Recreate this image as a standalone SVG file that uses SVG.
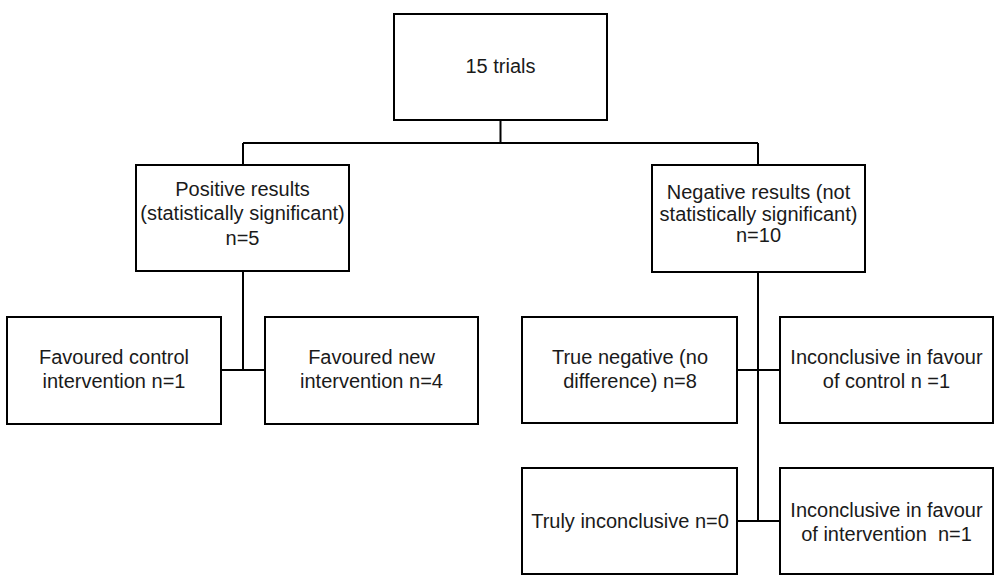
<svg xmlns="http://www.w3.org/2000/svg" width="997" height="582" viewBox="0 0 997 582">
<style>
.box{fill:#fff;stroke:#000;stroke-width:2}
.ln{fill:none;stroke:#000;stroke-width:2}
text{font-family:"Liberation Sans",Arial,sans-serif;font-size:20px;fill:#1a1a1a;text-anchor:middle}
</style>
<rect width="997" height="582" fill="#fff"/>
<g id="connectors">
<path class="ln" d="M500.5,120V143M243,143H758M243,143V165M758,143V165"/>
<path class="ln" d="M243,271V370M221,370H265"/>
<path class="ln" d="M758,272V521M737,370H780M737,521H780"/>
</g>
<g id="n-trials">
<rect class="box" x="394" y="14" width="213" height="106"/>
<text x="500.5" y="73">15 trials</text>
</g>
<g id="n-positive">
<rect class="box" x="136" y="165" width="213" height="106"/>
<text x="242.5" y="196">Positive results</text>
<text x="242.5" y="220">(statistically significant)</text>
<text x="242.5" y="245">n=5</text>
</g>
<g id="n-negative">
<rect class="box" x="652" y="165" width="213" height="107"/>
<text x="758.5" y="199">Negative results (not</text>
<text x="758.5" y="221">statistically significant)</text>
<text x="758.5" y="242">n=10</text>
</g>
<g id="n-fav-control">
<rect class="box" x="7" y="317" width="214" height="107"/>
<text x="114" y="364">Favoured control</text>
<text x="114" y="388">intervention n=1</text>
</g>
<g id="n-fav-new">
<rect class="box" x="265" y="317" width="213" height="107"/>
<text x="371.5" y="364">Favoured new</text>
<text x="371.5" y="388">intervention n=4</text>
</g>
<g id="n-true-neg">
<rect class="box" x="522" y="317" width="215" height="106"/>
<text x="630" y="364">True negative (no</text>
<text x="630" y="388">difference) n=8</text>
</g>
<g id="n-inc-control">
<rect class="box" x="780" y="317" width="213" height="106"/>
<text x="886.5" y="364">Inconclusive in favour</text>
<text x="886.5" y="388">of control n =1</text>
</g>
<g id="n-truly-inc">
<rect class="box" x="522" y="468" width="215" height="106"/>
<text x="630" y="528">Truly inconclusive n=0</text>
</g>
<g id="n-inc-intervention">
<rect class="box" x="780" y="468" width="213" height="106"/>
<text x="886.5" y="517">Inconclusive in favour</text>
<text x="886.5" y="541" style="white-space:pre">of intervention  n=1</text>
</g>
</svg>
